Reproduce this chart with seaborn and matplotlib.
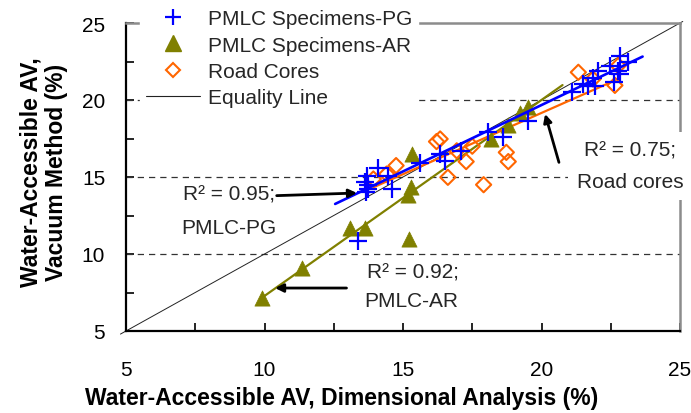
import matplotlib
matplotlib.use("Agg")
import matplotlib.pyplot as plt
from matplotlib.lines import Line2D
import seaborn as sns
import numpy as np

# ---------------- data ----------------
pg_x = [13.39, 13.66, 13.75, 13.63, 13.69, 13.72, 14.11, 14.47, 14.59, 15.60, 16.34, 16.52,
        17.10, 18.08, 18.60, 19.52, 21.09, 21.51, 21.69, 21.87, 21.93, 22.05, 22.47, 22.60,
        22.77, 22.83, 22.83, 23.13]
pg_y = [10.86, 14.00, 14.22, 14.70, 15.09, 14.45, 15.56, 15.09, 14.22, 15.93, 16.49, 16.05,
        16.71, 17.90, 17.58, 18.66, 20.50, 21.04, 20.93, 21.40, 20.93, 21.90, 22.23, 21.15,
        21.90, 21.69, 22.88, 22.45]

ar_x = [9.90, 11.34, 13.09, 13.62, 15.23, 15.18, 15.28, 15.32, 18.18, 18.78, 19.22, 19.52]
ar_y = [7.12, 9.12, 11.68, 11.70, 10.96, 13.80, 14.33, 16.49, 17.50, 18.35, 19.18, 19.52]

rc_x = [13.93, 14.41, 14.75, 16.21, 16.34, 16.62, 16.94, 17.28, 17.50, 17.91, 18.73, 18.80,
        21.33, 21.86, 22.65, 22.77]
rc_y = [14.87, 15.19, 15.74, 17.30, 17.47, 14.98, 16.70, 16.00, 17.00, 14.50, 16.60, 16.00,
        21.80, 21.36, 20.95, 22.23]

# trend lines (endpoints)
pg_fit_x = [12.55, 23.65]
pg_fit_y = [13.25, 22.82]
ar_fit_x = [9.90, 20.76]
ar_fit_y = [7.15, 20.97]
rc_fit_x = [13.93, 22.65]
rc_fit_y = [14.33, 21.27]
eq_x = [4.8, 25.1]
eq_y = [4.8, 25.1]

grid_y = [10, 15, 20]
ticks = [5, 10, 15, 20, 25]

labels = ["PMLC Specimens-PG", "PMLC Specimens-AR", "Road Cores", "Equality Line"]

BLUE = "#0000FF"
OLIVE = "#808000"
ORANGE = "#FF6600"
FS = 15

# ---------------- figure ----------------
sns.set_theme(style="white")
plt.rcParams["font.family"] = ["Liberation Sans", "DejaVu Sans"]

fig = plt.figure(figsize=(6.91, 4.14), dpi=100)
ax = fig.add_axes([126 / 691, (414 - 332) / 414, (680 - 126) / 691, (332 - 24) / 414])

for gy in grid_y:
    ax.axhline(gy, color="#333333", lw=0.9, ls=(0, (5, 4)), zorder=1)

sns.lineplot(x=eq_x, y=eq_y, ax=ax, color="#222222", lw=0.7, zorder=2, clip_on=False)

sns.lineplot(x=ar_fit_x, y=ar_fit_y, ax=ax, color=OLIVE, lw=1.6, zorder=3)
sns.lineplot(x=rc_fit_x, y=rc_fit_y, ax=ax, color=ORANGE, lw=1.6, zorder=3)

sns.scatterplot(x=ar_x, y=ar_y, ax=ax, marker="^", s=120, color=OLIVE,
                edgecolor=OLIVE, linewidth=0.5, zorder=4)
sns.scatterplot(x=rc_x, y=rc_y, ax=ax, marker="D", s=60, facecolor="none",
                edgecolor=ORANGE, linewidth=1.5, zorder=4)
sns.scatterplot(x=pg_x, y=pg_y, ax=ax, marker="+", s=150, color=BLUE,
                linewidth=1.6, zorder=5)
sns.lineplot(x=pg_fit_x, y=pg_fit_y, ax=ax, color=BLUE, lw=1.9, zorder=5)

ax.set_xlim(5, 25)
ax.set_ylim(5, 25)
ax.set_xticks(ticks)
ax.set_yticks(ticks)
ax.set_xticks([7.5, 12.5, 17.5, 22.5], minor=True)
ax.set_yticks([7.5, 12.5, 17.5, 22.5], minor=True)
ax.tick_params(which="both", direction="in", length=6, width=1.2, color="black",
               labelsize=FS, labelcolor="black", left=True, bottom=True)
ax.tick_params(axis="x", which="major", pad=21)
ax.tick_params(axis="y", which="major", pad=15)

for s in ["left", "bottom"]:
    ax.spines[s].set_color("black")
    ax.spines[s].set_linewidth(1.6)
for s in ["top", "right"]:
    ax.spines[s].set_color("#8c8c8c")
    ax.spines[s].set_linewidth(1.8)

ax.set_xlabel("Water-Accessible AV, Dimensional Analysis (%)", fontsize=16.5,
              fontweight="bold", color="black")
ax.xaxis.set_label_coords((342 - 126) / 554, (332 - 387) / 308)
ax.set_ylabel("Water-Accessible AV,\nVacuum Method (%)", fontsize=16.5,
              fontweight="bold", color="black", linespacing=1.15)
ax.yaxis.set_label_coords((68 - 126) / 554, (332 - 172) / 308)

# annotations
box = dict(facecolor="white", edgecolor="none", pad=2)
ax.text(8.72, 13.9, "R² = 0.95;", fontsize=FS, ha="center", va="center", zorder=6, bbox=box)
ax.text(8.72, 11.75, "PMLC-PG", fontsize=FS, ha="center", va="center", zorder=6, bbox=box)
ax.text(15.36, 8.83, "R² = 0.92;", fontsize=FS, ha="center", va="center", zorder=6, bbox=box)
ax.text(15.3, 7.0, "PMLC-AR", fontsize=FS, ha="center", va="center", zorder=6, bbox=box)
ax.text(23.2, 16.75, "R² = 0.75;", fontsize=FS, ha="center", va="center", zorder=6,
        bbox=dict(facecolor="white", edgecolor="none", pad=6), clip_on=False)
ax.text(23.2, 14.68, "Road cores", fontsize=FS, ha="center", va="center", zorder=6,
        bbox=dict(facecolor="white", edgecolor="none", pad=6), clip_on=False)

arrow = dict(arrowstyle="-|>", color="black", lw=2, mutation_scale=12, shrinkA=0, shrinkB=0)
ax.annotate("", xy=(13.34, 13.96), xytext=(10.44, 13.79), arrowprops=arrow, zorder=6)
ax.annotate("", xy=(10.38, 7.79), xytext=(12.96, 7.79), arrowprops=arrow, zorder=6)
ax.annotate("", xy=(20.13, 19.09), xytext=(20.63, 15.95), arrowprops=arrow, zorder=6)

handles = [
    Line2D([], [], ls="none", marker="+", color=BLUE, markersize=12, mew=1.6),
    Line2D([], [], ls="none", marker="^", color=OLIVE, markersize=11),
    Line2D([], [], ls="none", marker="D", mfc="none", mec=ORANGE, markersize=7, mew=1.5),
    Line2D([], [], color="#222222", lw=0.8),
]
leg = ax.legend(handles, labels, loc="upper left", bbox_to_anchor=(140 / 691, 1 - 4 / 414),
                bbox_transform=fig.transFigure, frameon=True, fontsize=FS,
                handlelength=2.6, handletextpad=0.34, labelspacing=0.35,
                borderpad=0.3, borderaxespad=0.0, fancybox=False)
leg.get_frame().set_facecolor("white")
leg.get_frame().set_edgecolor("white")
leg.get_frame().set_alpha(1.0)
leg.set_zorder(10)

fig.savefig("out.png", dpi=100)
